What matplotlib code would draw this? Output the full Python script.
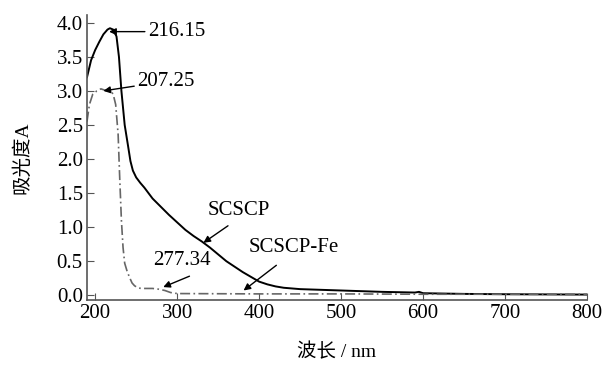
import matplotlib
matplotlib.use("Agg")
import matplotlib.pyplot as plt

plt.rcParams['font.family'] = ['Liberation Serif', 'Noto Sans CJK SC']

# SCSCP (сплошная)
wl_scscp = [190, 195, 200, 205, 210, 215, 218, 222, 226, 229, 232, 236, 240, 243, 246, 250, 255, 260,
            270, 280, 290, 300, 310, 320, 330, 340, 350, 360, 370, 380, 390, 400, 410, 420, 430,
            440, 450, 500, 550, 590, 595, 600, 650, 700, 800]
abs_scscp = [3.2, 3.45, 3.6, 3.72, 3.83, 3.9, 3.92, 3.9, 3.8, 3.5, 3.0, 2.5, 2.2, 1.97, 1.83, 1.73, 1.65, 1.58,
             1.42, 1.3, 1.18, 1.07, 0.96, 0.87, 0.79, 0.7, 0.6, 0.5, 0.42, 0.34, 0.27, 0.2, 0.16, 0.13, 0.11,
             0.1, 0.09, 0.07, 0.05, 0.04, 0.05, 0.03, 0.02, 0.015, 0.01]

# SCSCP-Fe (штрих-пунктир)
wl_fe = [190, 193, 197, 202, 207, 212, 219, 222, 225, 228, 230, 232, 234, 236, 239, 242, 245, 248,
         252, 256, 270, 277, 285, 292, 300, 400, 500, 600, 800]
abs_fe = [2.55, 2.8, 2.95, 3.0, 3.03, 3.01, 3.0, 2.95, 2.8, 2.36, 1.7, 1.1, 0.7, 0.47, 0.35, 0.26, 0.18, 0.14,
          0.11, 0.1, 0.1, 0.09, 0.07, 0.04, 0.025, 0.02, 0.02, 0.015, 0.015]

fs = 15
fig = plt.figure(figsize=(6.04, 3.65), dpi=100)
ax = fig.add_axes([0.144, 0.178, 0.828, 0.782])

ax.plot(wl_scscp, abs_scscp, color='black', lw=1.4)
ax.plot(wl_fe, abs_fe, color='#666666', lw=1.2, linestyle=(0, (6, 2, 1, 2)))

ax.set_xlim(190, 800)
ax.set_ylim(-0.07, 4.12)
ax.set_xticks(range(200, 801, 100))
ax.set_yticks([0, 0.5, 1, 1.5, 2, 2.5, 3, 3.5, 4])
ax.set_yticklabels([f'{v:.1f}' for v in ax.get_yticks()])
ax.tick_params(direction='in', length=5, color='#555555', labelsize=fs, pad=3)
for s in ['top', 'right']:
    ax.spines[s].set_visible(False)
for s in ['left', 'bottom']:
    ax.spines[s].set_color('#555555')
    ax.spines[s].set_linewidth(1.2)

ax.set_ylabel('吸光度A', fontsize=14, labelpad=18)
ax.set_xlabel('波长 / nm', fontsize=14, labelpad=14)

arr = dict(arrowstyle='-|>', color='black', lw=1.0, mutation_scale=10, shrinkA=0, shrinkB=0)
ax.annotate('216.15', xy=(217, 3.87), xytext=(264, 3.87), fontsize=fs, va='center', ha='left', arrowprops=arr)
ax.annotate('207.25', xy=(210, 3.0), xytext=(251, 3.14), fontsize=fs, va='center', ha='left', arrowprops=arr)
ax.annotate('', xy=(283, 0.12), xytext=(315, 0.28), arrowprops=arr)
ax.text(306, 0.51, '277.34', fontsize=fs, ha='center', va='center')
ax.annotate('', xy=(332, 0.77), xytext=(362, 1.02), arrowprops=arr)
ax.text(375, 1.24, 'SCSCP', fontsize=fs, ha='center', va='center')
ax.annotate('', xy=(381, 0.07), xytext=(421, 0.44), arrowprops=arr)
ax.text(442, 0.70, 'SCSCP-Fe', fontsize=fs, ha='center', va='center')

plt.savefig('out.png', dpi=100)
